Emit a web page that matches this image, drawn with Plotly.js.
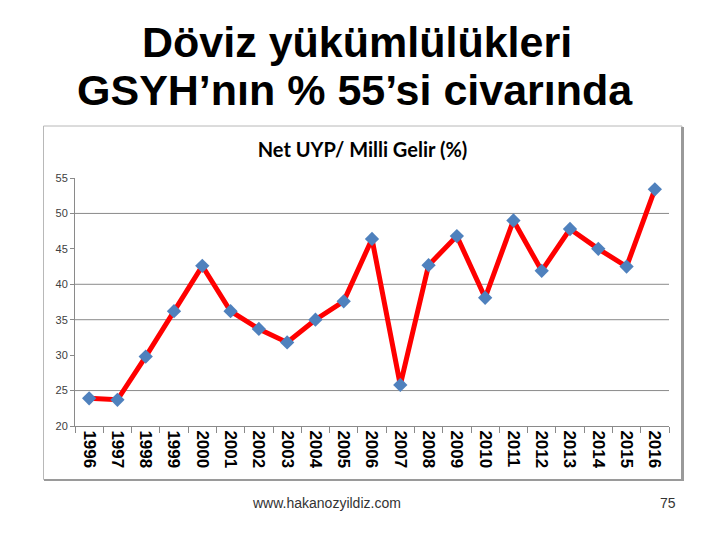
<!DOCTYPE html>
<html>
<head>
<meta charset="utf-8">
<script src="https://cdn.plot.ly/plotly-3.0.1.min.js"></script>
<style>html,body{margin:0;padding:0;background:#fff;}#chart{width:720px;height:540px;}</style>
</head>
<body>
<div id="chart"></div>
<script>
// ---- data ----
const years = ["1996","1997","1998","1999","2000","2001","2002","2003","2004","2005","2006","2007","2008","2009","2010","2011","2012","2013","2014","2015","2016"];
const netUypRatio = [23.9, 23.7, 29.8, 36.2, 42.6, 36.2, 33.7, 31.8, 35.0, 37.6, 46.4, 25.8, 42.7, 46.8, 38.1, 49.0, 41.9, 47.8, 45.0, 42.5, 53.4];
const yTicks = [20, 25, 30, 35, 40, 45, 50, 55];
const gridValues = [25, 35, 40, 50];
const slideTitle1 = "Döviz yükümlülükleri";
const slideTitle2 = "GSYH’nın % 55’si civarında";
const chartTitle = "Net UYP/ Milli Gelir (%)";
const footerText = "www.hakanozyildiz.com";
const pageNumber = "75";

// ---- geometry helpers (pixel -> paper) ----
const L = 75, R = 51, T = 178, B = 114, W = 720, H = 540;
const pw = W - L - R, ph = H - T - B;
const px = x => (x - L) / pw;
const py = y => (H - B - y) / ph;

const gridShapes = gridValues.map(v => ({
  type: 'line', xref: 'paper', yref: 'y', x0: 0, x1: 1, y0: v, y1: v,
  line: {color: '#8a8a8a', width: 1}, layer: 'below'
}));

const boxShapes = [
  {type: 'rect', xref: 'paper', yref: 'paper', x0: px(43.5), x1: px(682), y0: py(126), y1: py(479.5),
   line: {color: '#b8b8b8', width: 1}, fillcolor: 'rgba(0,0,0,0)', layer: 'below'},
  {type: 'line', xref: 'paper', yref: 'paper', x0: px(682.5), x1: px(682.5), y0: py(127), y1: py(481),
   line: {color: '#9a9a9a', width: 3}},
  {type: 'line', xref: 'paper', yref: 'paper', x0: px(44), x1: px(684), y0: py(480), y1: py(480),
   line: {color: '#9a9a9a', width: 2}}
];

const trace = {
  x: years, y: netUypRatio, type: 'scatter', mode: 'lines+markers',
  line: {color: '#ff0000', width: 5},
  marker: {symbol: 'diamond', size: 11, color: '#4f81bd', line: {width: 0}},
  hoverinfo: 'x+y'
};

const layout = {
  width: W, height: H,
  margin: {l: L, r: R, t: T, b: B, pad: 0},
  paper_bgcolor: '#ffffff', plot_bgcolor: '#ffffff',
  showlegend: false,
  title: {
    text: chartTitle, xref: 'container', yref: 'container',
    x: 362.5 / W, xanchor: 'center', y: 1 - 150 / H, yanchor: 'middle',
    font: {family: 'Lato, Open Sans, sans-serif', size: 20, weight: 'bold', color: '#000'}
  },
  xaxis: {
    type: 'category', range: [-0.5, 20.5], tickangle: 90,
    showline: true, linecolor: '#8a8a8a', linewidth: 1,
    ticks: 'outside', tickson: 'boundaries', ticklen: 6, tickcolor: '#8a8a8a', tickwidth: 1,
    showgrid: false, zeroline: false,
    tickfont: {family: 'Liberation Sans, Arial, sans-serif', size: 17, weight: 'bold', color: '#000'}
  },
  yaxis: {
    range: [20, 55], tickvals: yTicks, ticktext: yTicks.map(String),
    showline: true, linecolor: '#8a8a8a', linewidth: 1,
    ticks: 'outside', ticklen: 4, tickcolor: '#8a8a8a',
    showgrid: false, zeroline: false,
    tickfont: {family: 'Liberation Sans, Arial, sans-serif', size: 11, color: '#404040'}
  },
  shapes: boxShapes.concat(gridShapes),
  annotations: [
    {text: slideTitle1, xref: 'paper', yref: 'paper', x: px(357), y: py(42), xanchor: 'center', yanchor: 'middle',
     showarrow: false, font: {family: 'Liberation Sans, Arial, sans-serif', size: 43, weight: 'bold', color: '#000'}},
    {text: slideTitle2, xref: 'paper', yref: 'paper', x: px(355), y: py(90), xanchor: 'center', yanchor: 'middle',
     showarrow: false, font: {family: 'Liberation Sans, Arial, sans-serif', size: 43, weight: 'bold', color: '#000'}},
    {text: footerText, xref: 'paper', yref: 'paper', x: px(326.5), y: py(503), xanchor: 'center', yanchor: 'middle',
     showarrow: false, font: {family: 'Liberation Sans, Arial, sans-serif', size: 14, color: '#333'}},
    {text: pageNumber, xref: 'paper', yref: 'paper', x: px(668), y: py(503), xanchor: 'center', yanchor: 'middle',
     showarrow: false, font: {family: 'Liberation Sans, Arial, sans-serif', size: 14, color: '#333'}}
  ]
};

Plotly.newPlot('chart', [trace], layout, {displayModeBar: false, staticPlot: true});
</script>
</body>
</html>
